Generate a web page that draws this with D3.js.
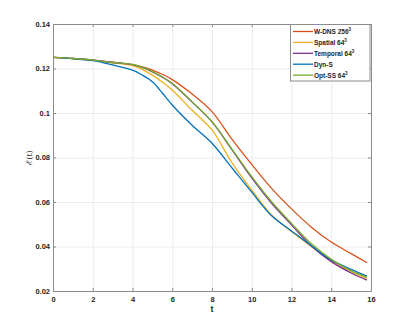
<!DOCTYPE html>
<html>
<head>
<meta charset="utf-8">
<script src="https://cdn.jsdelivr.net/npm/d3@7"></script>
<style>
  body { margin: 0; background: #fff; }
  text { font-family: "Liberation Sans", Arial, sans-serif; }
</style>
</head>
<body>
<svg id="chart" width="409" height="327"></svg>
<script>
// time samples (t)
var tValues = [0, 1, 2, 3, 4, 4.5, 5, 5.5, 6, 7, 8, 9, 10, 11, 12, 13, 14, 15, 15.8];

// series
var wdns     = [0.125, 0.1245, 0.1238, 0.1228, 0.1217, 0.1207, 0.1193, 0.1174, 0.1150, 0.1085, 0.1006, 0.0883, 0.0769, 0.0661, 0.0569, 0.0487, 0.0420, 0.0368, 0.0327];
var spatial  = [0.125, 0.1244, 0.1237, 0.1225, 0.1213, 0.1195, 0.1170, 0.1139, 0.1103, 0.1012, 0.0924, 0.0777, 0.0654, 0.0542, 0.0467, 0.0400, 0.0337, 0.0287, 0.0257];
var temporal = [0.125, 0.1245, 0.1238, 0.1227, 0.1217, 0.1204, 0.1185, 0.1161, 0.1132, 0.1049, 0.0960, 0.0835, 0.0708, 0.0594, 0.0497, 0.0402, 0.0332, 0.0281, 0.0249];
var dyns     = [0.125, 0.1244, 0.1235, 0.1216, 0.1193, 0.1170, 0.1140, 0.1090, 0.1036, 0.0945, 0.0864, 0.0754, 0.0644, 0.0538, 0.0470, 0.0403, 0.0340, 0.0297, 0.0267];
var optss    = [0.125, 0.1245, 0.1238, 0.1227, 0.1218, 0.1205, 0.1186, 0.1162, 0.1133, 0.1050, 0.0961, 0.0838, 0.0714, 0.0601, 0.0504, 0.0412, 0.0343, 0.0291, 0.0262];

var seriesNames = ["W-DNS 256", "Spatial 64", "Temporal 64", "Dyn-S", "Opt-SS 64"];
var seriesSup = ["3", "3", "3", "", "3"];
var seriesColors = ["#D95319", "#EDB120", "#7E2F8E", "#0072BD", "#77AC30"];
var seriesData = [wdns, spatial, temporal, dyns, optss];

var xTicks = [0, 2, 4, 6, 8, 10, 12, 14, 16];
var yTicks = [0.02, 0.04, 0.06, 0.08, 0.1, 0.12, 0.14];
var yTickLabels = ["0.02", "0.04", "0.06", "0.08", "0.1", "0.12", "0.14"];

var svg = d3.select("#chart");
var plotLeft = 53, plotRight = 371, plotTop = 24, plotBottom = 291;

var x = d3.scaleLinear().domain([0, 16]).range([plotLeft, plotRight]);
var y = d3.scaleLinear().domain([0.02, 0.14]).range([plotBottom, plotTop]);

// grid
var grid = svg.append("g");
grid.selectAll(".gx").data(xTicks.slice(1, -1)).enter().append("line")
  .attr("x1", d => x(d) + 0.5).attr("x2", d => x(d) + 0.5)
  .attr("y1", plotTop).attr("y2", plotBottom)
  .attr("stroke", "#ececec").attr("stroke-width", 1);
grid.selectAll(".gy").data(yTicks.slice(1, -1)).enter().append("line")
  .attr("y1", d => y(d) + 0.5).attr("y2", d => y(d) + 0.5)
  .attr("x1", plotLeft).attr("x2", plotRight)
  .attr("stroke", "#ececec").attr("stroke-width", 1);

// axes
var xAxis = svg.append("g").attr("transform", "translate(0," + plotBottom + ")")
  .call(d3.axisBottom(x).tickValues(xTicks).tickSizeInner(-3).tickSizeOuter(0).tickPadding(6));
var xAxisTop = svg.append("g").attr("transform", "translate(0," + plotTop + ")")
  .call(d3.axisTop(x).tickValues(xTicks).tickSizeInner(-3).tickSizeOuter(0).tickFormat(""));
var yAxis = svg.append("g").attr("transform", "translate(" + plotLeft + ",0)")
  .call(d3.axisLeft(y).tickValues(yTicks).tickSizeInner(-3).tickSizeOuter(0).tickPadding(3)
    .tickFormat((d, i) => yTickLabels[i]));
var yAxisRight = svg.append("g").attr("transform", "translate(" + plotRight + ",0)")
  .call(d3.axisRight(y).tickValues(yTicks).tickSizeInner(-3).tickSizeOuter(0).tickFormat(""));

[xAxis, xAxisTop, yAxis, yAxisRight].forEach(a => {
  a.select(".domain").attr("stroke", "#8c8c8c");
  a.selectAll(".tick line").attr("stroke", "#8c8c8c");
  a.selectAll("text").attr("fill", "#262626").style("font-size", "7.5px")
    .style("font-weight", "bold");
});

// lines
var line = d3.line()
  .x((d, i) => x(tValues[i]))
  .y(d => y(d))
  .curve(d3.curveCatmullRom.alpha(0.5));

seriesData.forEach((s, k) => {
  svg.append("path")
    .datum(s)
    .attr("fill", "none")
    .attr("stroke", seriesColors[k])
    .attr("stroke-width", 1.3)
    .attr("d", line);
});

// labels
svg.append("text")
  .attr("x", (plotLeft + plotRight) / 2).attr("y", 312)
  .attr("text-anchor", "middle")
  .style("font-size", "9px").style("font-weight", "bold")
  .attr("fill", "#262626")
  .text("t");

svg.append("text")
  .attr("transform", "translate(31.5," + ((plotTop + plotBottom) / 2) + ")rotate(-90)")
  .attr("text-anchor", "middle")
  .style("font-family", "'DejaVu Serif', serif")
  .style("font-size", "8px")
  .attr("fill", "#262626")
  .text("ℰ(t)");

// legend
var legend = svg.append("g");
legend.append("rect")
  .attr("x", 290.5).attr("y", 24.5).attr("width", 79.5).attr("height", 56.5)
  .attr("fill", "#fff").attr("stroke", "#8c8c8c").attr("stroke-width", 1);

seriesNames.forEach((name, k) => {
  var ly = 31.5 + k * 10.9;
  legend.append("line")
    .attr("x1", 293).attr("x2", 313)
    .attr("y1", ly).attr("y2", ly)
    .attr("stroke", seriesColors[k]).attr("stroke-width", 1.3);
  var t = legend.append("text")
    .attr("x", 314).attr("y", ly + 2.5)
    .style("font-size", "6.5px").style("font-weight", "bold")
    .attr("fill", "#262626")
    .text(name);
  if (seriesSup[k]) {
    t.append("tspan").attr("dy", -3).style("font-size", "4.5px").text(seriesSup[k]);
  }
});
</script>
</body>
</html>
